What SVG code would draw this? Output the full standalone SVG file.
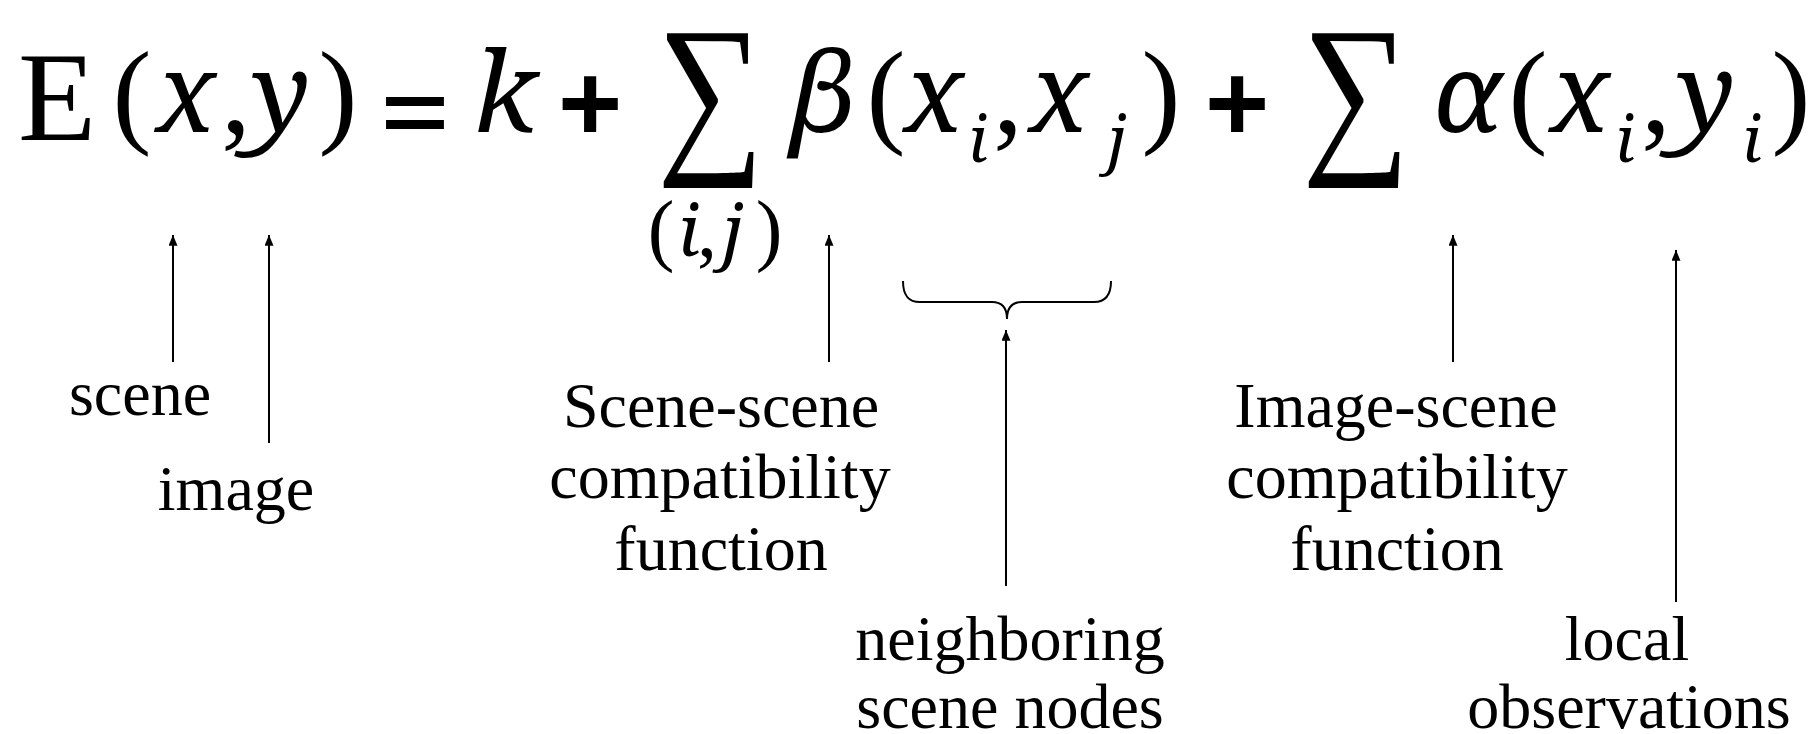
<svg xmlns="http://www.w3.org/2000/svg" width="1815" height="734" viewBox="0 0 1815 734">
<style>
.r{font-family:"Liberation Serif","Times New Roman",serif;fill:#000}
.i{font-family:"Noto Serif","Liberation Serif",serif;font-style:italic}
.op{font-family:"Liberation Sans",Arial,sans-serif;font-weight:bold;fill:#000}
.lbl{font-family:"Liberation Serif","Times New Roman",serif;font-size:64px;fill:#000;text-anchor:middle}
.eq text{text-anchor:middle}
.conn line,.conn path{stroke:#000;stroke-width:2;fill:none}
</style>
<defs>
<marker id="ah" viewBox="0 0 12 10" refX="12" refY="5" markerUnits="userSpaceOnUse" markerWidth="12" markerHeight="9" orient="auto">
<path d="M0,0 L12,5 L0,10 z" fill="#000"/>
</marker>
</defs>
<rect width="1815" height="734" fill="#fff"/>
<g id="equation" class="eq">
<text class="r" x="57" y="140" font-size="128">E</text>
<text class="r" font-size="117"><tspan x="132" y="132">(</tspan><tspan class="i" x="186" y="132" font-size="110">x</tspan><tspan x="236" y="132" font-size="120">,</tspan><tspan class="i" x="281" y="132" font-size="110">y</tspan><tspan x="338" y="132">)</tspan></text>
<text class="op" transform="translate(415,141) scale(1.05,0.75)" x="0" y="0" font-size="110">=</text>
<text class="r i" x="505" y="132" font-size="112">k</text>
<text class="op" x="590" y="141" font-size="110">+</text>
<text class="r" x="657" y="150" font-size="178" textLength="107" lengthAdjust="spacingAndGlyphs" style="text-anchor:start">∑</text>
<text class="r" font-size="117"><tspan class="i" x="824" y="132" font-size="110">β</tspan><tspan x="886" y="132">(</tspan><tspan class="i" x="934" y="132" font-size="110">x</tspan><tspan class="i" x="978" y="162" font-size="64">i</tspan><tspan x="1008" y="132" font-size="120">,</tspan><tspan class="i" x="1059" y="132" font-size="110">x</tspan><tspan class="i" x="1117" y="162" font-size="64">j</tspan><tspan x="1161" y="132">)</tspan></text>
<text class="op" x="1237" y="141" font-size="110">+</text>
<text class="r" x="1302" y="150" font-size="178" textLength="108" lengthAdjust="spacingAndGlyphs" style="text-anchor:start">∑</text>
<text class="r" font-size="117"><tspan class="i" x="1467" y="132" font-size="110">α</tspan><tspan x="1528" y="132">(</tspan><tspan class="i" x="1580" y="132" font-size="110">x</tspan><tspan class="i" x="1625" y="162" font-size="64">i</tspan><tspan x="1656" y="132" font-size="120">,</tspan><tspan class="i" x="1706" y="132" font-size="110">y</tspan><tspan class="i" x="1752" y="162" font-size="64">i</tspan><tspan x="1791" y="132">)</tspan></text>
<text class="r" font-size="80"><tspan x="661" y="256">(</tspan><tspan class="i" x="689" y="256" font-size="72">i</tspan><tspan x="707" y="256">,</tspan><tspan class="i" x="733" y="256" font-size="72">j</tspan><tspan x="769" y="256">)</tspan></text>
</g>
<g id="connectors" class="conn">
<line x1="173" y1="362" x2="173" y2="235" marker-end="url(#ah)"/>
<line x1="269" y1="443" x2="269" y2="235" marker-end="url(#ah)"/>
<line x1="829" y1="362" x2="829" y2="235" marker-end="url(#ah)"/>
<path d="M903,281 C903,295 908,302 920,302 L992,302 C1002,302 1007,308 1007,319 C1007,308 1012,302 1022,302 L1094,302 C1106,302 1111,295 1111,281"/>
<line x1="1006" y1="586" x2="1006" y2="330" marker-end="url(#ah)"/>
<line x1="1453" y1="362" x2="1453" y2="235" marker-end="url(#ah)"/>
<line x1="1676" y1="602" x2="1676" y2="250" marker-end="url(#ah)"/>
</g>
<g id="label-scene"><text class="lbl" x="140" y="415">scene</text></g>
<g id="label-image"><text class="lbl" x="236" y="510">image</text></g>
<g id="label-scene-scene">
<text class="lbl" x="721" y="427">Scene-scene</text>
<text class="lbl" x="720" y="498">compatibility</text>
<text class="lbl" x="721" y="570">function</text>
</g>
<g id="label-neighboring">
<text class="lbl" x="1010" y="660">neighboring</text>
<text class="lbl" x="1010" y="728">scene nodes</text>
</g>
<g id="label-image-scene">
<text class="lbl" x="1396" y="427">Image-scene</text>
<text class="lbl" x="1397" y="498">compatibility</text>
<text class="lbl" x="1397" y="570">function</text>
</g>
<g id="label-local">
<text class="lbl" x="1627" y="660">local</text>
<text class="lbl" x="1629" y="728">observations</text>
</g>
</svg>
